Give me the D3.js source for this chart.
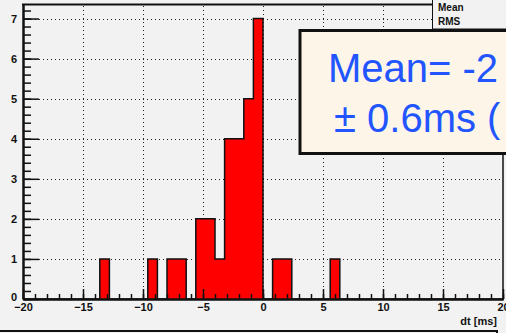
<!DOCTYPE html>
<html>
<head>
<meta charset="utf-8">
<script src="https://cdn.jsdelivr.net/npm/d3@7"></script>
<style>
  html, body { margin: 0; padding: 0; background: #f2f2f2; }
  svg { display: block; }
</style>
</head>
<body>
<svg id="chart" width="506" height="333"></svg>
<script>
// Histogram of dt [ms]: 50 bins from -20 to 20
const xRange = [-20, 20];
const binCounts = [
  0, 0, 0, 0, 0, 0, 0, 0, 1, 0,
  0, 0, 0, 1, 0, 1, 1, 0, 2, 2,
  1, 4, 4, 5, 7, 0, 1, 1, 0, 0,
  0, 0, 1, 0, 0, 0, 0, 0, 0, 0,
  0, 0, 0, 0, 0, 0, 0, 0, 0, 0
];
const xTickValues = [-20, -15, -10, -5, 0, 5, 10, 15, 20];
const yTickValues = [0, 1, 2, 3, 4, 5, 6, 7];
const yMax = 7.35;
const xTitle = "dt [ms]";
const statsLabels = ["Mean", "RMS"];
const fitLines = ["Mean= -2", "± 0.6ms ("];

const W = 506, H = 333;
const frame = { left: 23, right: 503, top: 4.5, bottom: 299 };

const svg = d3.select("#chart");
const x = d3.scaleLinear().domain(xRange).range([frame.left, frame.right]);
const y = d3.scaleLinear().domain([0, yMax]).range([frame.bottom, frame.top]);

const nb = binCounts.length;
const bw = (xRange[1] - xRange[0]) / nb;
const bins = binCounts.map((c, i) => ({ lo: xRange[0] + i * bw, hi: xRange[0] + (i + 1) * bw, c }));

// background
svg.append("rect").attr("width", W).attr("height", H).attr("fill", "#f2f2f2");

// dotted grid
const grid = svg.append("g").attr("stroke", "#222").attr("stroke-width", 1)
  .attr("stroke-dasharray", "1,3");
grid.selectAll("line.gx").data(xTickValues.filter(v => v > xRange[0] && v < xRange[1]))
  .join("line").attr("class", "gx")
  .attr("x1", d => Math.round(x(d)) + 0.5).attr("x2", d => Math.round(x(d)) + 0.5)
  .attr("y1", frame.bottom).attr("y2", frame.top);
grid.selectAll("line.gy").data(yTickValues.filter(v => v > 0))
  .join("line").attr("class", "gy")
  .attr("y1", d => Math.round(y(d)) + 0.5).attr("y2", d => Math.round(y(d)) + 0.5)
  .attr("x1", frame.left).attr("x2", frame.right);

// histogram as one stepped shape: filled area plus contour
const pts = [];
bins.forEach(b => { pts.push([b.lo, b.c]); pts.push([b.hi, b.c]); });
const fillArea = d3.area().x(d => x(d[0])).y0(y(0)).y1(d => y(d[1]));
svg.append("path").attr("d", fillArea(pts)).attr("fill", "#ff0000");
const contour = d3.line().x(d => x(d[0])).y(d => y(d[1]));
svg.append("path").attr("d", contour(pts)).attr("fill", "none")
  .attr("stroke", "#111").attr("stroke-width", 1.5);

// axes
const fontAxis = "bold 11px 'Liberation Sans', Arial, sans-serif";
const xMinor = d3.range(xRange[0], xRange[1] + 0.001, 1);
const xAxisMinor = d3.axisBottom(x).tickValues(xMinor).tickFormat("")
  .tickSizeInner(-5).tickSizeOuter(0);
const xAxis = d3.axisBottom(x).tickValues(xTickValues).tickFormat(d3.format("d"))
  .tickSizeInner(-10).tickSizeOuter(0).tickPadding(4);
const gxm = svg.append("g").attr("transform", `translate(0,${frame.bottom})`).call(xAxisMinor);
const gx = svg.append("g").attr("transform", `translate(0,${frame.bottom})`).call(xAxis);

const yMinor = d3.range(0, yMax, 0.2);
const yAxisMinor = d3.axisLeft(y).tickValues(yMinor).tickFormat("")
  .tickSizeInner(-8).tickSizeOuter(0);
const yAxis = d3.axisLeft(y).tickValues(yTickValues).tickFormat(d3.format("d"))
  .tickSizeInner(-16).tickSizeOuter(0).tickPadding(6);
const gym = svg.append("g").attr("transform", `translate(${frame.left},0)`).call(yAxisMinor);
const gy = svg.append("g").attr("transform", `translate(${frame.left},0)`).call(yAxis);

[gx, gxm, gy, gym].forEach(g => {
  g.selectAll(".tick line").attr("stroke", "#111").attr("stroke-width", 1.5);
  g.select(".domain").attr("stroke", "#111").attr("stroke-width", 2);
  g.selectAll("text").style("font", fontAxis).attr("fill", "#111");
});
gy.selectAll(".tick text").attr("dy", "0.32em");
// the zero label sits just above the corner, clear of the x label
gy.selectAll(".tick text").filter(d => d === 0).attr("dy", "0.1em");

// upper frame
svg.append("line").attr("x1", frame.left - 1).attr("x2", 433)
  .attr("y1", frame.top).attr("y2", frame.top)
  .attr("stroke", "#111").attr("stroke-width", 2);
svg.append("line").attr("x1", frame.right).attr("x2", frame.right)
  .attr("y1", frame.top).attr("y2", frame.bottom + 1)
  .attr("stroke", "#111").attr("stroke-width", 1.5);

// axis title
svg.append("text").attr("x", 497).attr("y", 325).attr("text-anchor", "end")
  .style("font", fontAxis).attr("fill", "#111").text(xTitle);

// statistics box
svg.append("rect").attr("x", 432.5).attr("y", -2).attr("width", 80).attr("height", 31)
  .attr("fill", "#f2f2f2").attr("stroke", "#111").attr("stroke-width", 1);
svg.selectAll("text.stat").data(statsLabels).join("text").attr("class", "stat")
  .attr("x", 438).attr("y", (d, i) => 10.5 + i * 14.5)
  .style("font", "bold 10px 'Liberation Sans', Arial, sans-serif").attr("fill", "#111")
  .text(d => d);

// fit result box
svg.append("rect").attr("x", 300).attr("y", 30.5).attr("width", 230).attr("height", 123)
  .attr("fill", "#fdf5e8").attr("stroke", "#111").attr("stroke-width", 3);
svg.selectAll("text.fit").data(fitLines).join("text").attr("class", "fit")
  .attr("x", (d, i) => i === 0 ? 328 : 334).attr("y", (d, i) => 82 + i * 50)
  .style("font", "40px 'Liberation Sans', Arial, sans-serif").attr("fill", "#2255ff")
  .text(d => d);

// lower pad edge
svg.append("rect").attr("x", -5).attr("y", 331).attr("width", 502).attr("height", 12)
  .attr("fill", "#f2f2f2").attr("stroke", "#111").attr("stroke-width", 2);
</script>
</body>
</html>
